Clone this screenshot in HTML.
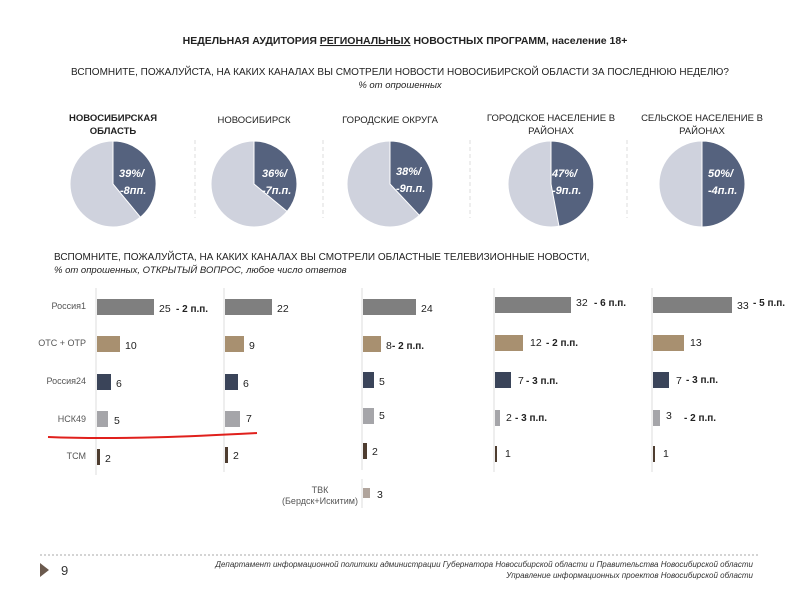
<!DOCTYPE html>
<html><head><meta charset="utf-8"><style>
body{margin:0;background:#fff;width:800px;height:599px;overflow:hidden}
svg{display:block}
text{font-family:"Liberation Sans",sans-serif;fill:#222}
</style></head><body>
<svg width="800" height="599" viewBox="0 0 800 599">
<text x="405" y="44" text-anchor="middle" font-size="10.5" font-weight="bold">НЕДЕЛЬНАЯ АУДИТОРИЯ <tspan text-decoration="underline">РЕГИОНАЛЬНЫХ</tspan> НОВОСТНЫХ ПРОГРАММ, население 18+</text>
<text x="400" y="75" text-anchor="middle" font-size="10">ВСПОМНИТЕ, ПОЖАЛУЙСТА, НА КАКИХ КАНАЛАХ ВЫ СМОТРЕЛИ НОВОСТИ НОВОСИБИРСКОЙ ОБЛАСТИ ЗА ПОСЛЕДНЮЮ НЕДЕЛЮ?</text>
<text x="400" y="88" text-anchor="middle" font-size="9.5" font-style="italic">% от опрошенных</text>

<g font-size="9.5" text-anchor="middle">
<text x="113" y="121" font-weight="bold">НОВОСИБИРСКАЯ</text><text x="113" y="134" font-weight="bold">ОБЛАСТЬ</text>
<text x="254" y="123">НОВОСИБИРСК</text>
<text x="390" y="123">ГОРОДСКИЕ ОКРУГА</text>
<text x="551" y="121">ГОРОДСКОЕ НАСЕЛЕНИЕ В</text><text x="551" y="134">РАЙОНАХ</text>
<text x="702" y="121">СЕЛЬСКОЕ НАСЕЛЕНИЕ В</text><text x="702" y="134">РАЙОНАХ</text>
</g>
<g stroke="#ddd" stroke-dasharray="4,3">
<line x1="195" y1="140" x2="195" y2="218"/><line x1="323" y1="140" x2="323" y2="218"/>
<line x1="470" y1="140" x2="470" y2="218"/><line x1="627" y1="140" x2="627" y2="218"/>
</g>
<g stroke="#fff" stroke-width="1">
<circle cx="113" cy="184" r="43" fill="#cfd2dd"/><path d="M113,184 L113,141 A43,43 0 0 1 140.4,217.2 Z" fill="#55627e"/>
<circle cx="254" cy="184" r="43" fill="#cfd2dd"/><path d="M254,184 L254,141 A43,43 0 0 1 287.1,211.4 Z" fill="#55627e"/>
<circle cx="390" cy="184" r="43" fill="#cfd2dd"/><path d="M390,184 L390,141 A43,43 0 0 1 419.4,215.3 Z" fill="#55627e"/>
<circle cx="551" cy="184" r="43" fill="#cfd2dd"/><path d="M551,184 L551,141 A43,43 0 0 1 559,226.2 Z" fill="#55627e"/>
<circle cx="702" cy="184" r="43" fill="#cfd2dd"/><path d="M702,184 L702,141 A43,43 0 0 1 702,227 Z" fill="#55627e"/>
</g>
<g font-size="11" font-weight="bold" font-style="italic">
<text x="119" y="177" style="fill:#fff">39%/</text><text x="120" y="194" style="fill:#fff">-8пп.</text>
<text x="262" y="177" style="fill:#fff">36%/</text><text x="262" y="194" style="fill:#fff">-7п.п.</text>
<text x="396" y="175" style="fill:#fff">38%/</text><text x="396" y="192" style="fill:#fff">-9п.п.</text>
<text x="552" y="177" style="fill:#fff">47%/</text><text x="552" y="194" style="fill:#fff">-9п.п.</text>
<text x="708" y="177" style="fill:#fff">50%/</text><text x="708" y="194" style="fill:#fff">-4п.п.</text>
</g>

<text x="54" y="260" font-size="10">ВСПОМНИТЕ, ПОЖАЛУЙСТА, НА КАКИХ КАНАЛАХ ВЫ СМОТРЕЛИ ОБЛАСТНЫЕ ТЕЛЕВИЗИОННЫЕ НОВОСТИ,</text>
<text x="54" y="273" font-size="9.5" font-style="italic">% от опрошенных, ОТКРЫТЫЙ ВОПРОС, любое число ответов</text>

<g stroke="#ddd" stroke-width="1">
<line x1="96" y1="288" x2="96" y2="475"/><line x1="224" y1="288" x2="224" y2="472"/>
<line x1="362" y1="288" x2="362" y2="470"/><line x1="494" y1="288" x2="494" y2="472"/>
<line x1="652" y1="288" x2="652" y2="472"/><line x1="362" y1="479" x2="362" y2="508"/>
</g>
<g font-size="9" text-anchor="end">
<text x="86" y="309" style="fill:#555">Россия1</text><text x="86" y="346" style="fill:#555">ОТС + ОТР</text>
<text x="86" y="384" style="fill:#555">Россия24</text><text x="86" y="422" style="fill:#555">НСК49</text>
<text x="86" y="459" style="fill:#555">ТСМ</text>
</g>
<g font-size="9" text-anchor="middle"><text x="320" y="493" style="fill:#555">ТВК</text><text x="320" y="504" style="fill:#555">(Бердск+Искитим)</text></g>

<g>
<rect x="97" y="299" width="57" height="16" fill="#7f7f7f"/><rect x="97" y="336" width="23" height="16" fill="#a89070"/>
<rect x="97" y="374" width="14" height="16" fill="#3a4459"/><rect x="97" y="411" width="11" height="16" fill="#a5a5a9"/>
<rect x="97" y="449" width="3" height="16" fill="#4e3d30"/>
<rect x="225" y="299" width="47" height="16" fill="#7f7f7f"/><rect x="225" y="336" width="19" height="16" fill="#a89070"/>
<rect x="225" y="374" width="13" height="16" fill="#3a4459"/><rect x="225" y="411" width="15" height="16" fill="#a5a5a9"/>
<rect x="225" y="447" width="3" height="16" fill="#4e3d30"/>
<rect x="363" y="299" width="53" height="16" fill="#7f7f7f"/><rect x="363" y="336" width="18" height="16" fill="#a89070"/>
<rect x="363" y="372" width="11" height="16" fill="#3a4459"/><rect x="363" y="408" width="11" height="16" fill="#a5a5a9"/>
<rect x="363" y="443" width="4" height="16" fill="#4e3d30"/><rect x="363" y="488" width="7" height="10" fill="#b0a49c"/>
<rect x="495" y="297" width="76" height="16" fill="#7f7f7f"/><rect x="495" y="335" width="28" height="16" fill="#a89070"/>
<rect x="495" y="372" width="16" height="16" fill="#3a4459"/><rect x="495" y="410" width="5" height="16" fill="#a5a5a9"/>
<rect x="495" y="446" width="2" height="16" fill="#4e3d30"/>
<rect x="653" y="297" width="79" height="16" fill="#7f7f7f"/><rect x="653" y="335" width="31" height="16" fill="#a89070"/>
<rect x="653" y="372" width="16" height="16" fill="#3a4459"/><rect x="653" y="410" width="7" height="16" fill="#a5a5a9"/>
<rect x="653" y="446" width="2" height="16" fill="#4e3d30"/>
</g>
<g font-size="10.5">
<text x="159" y="312">25</text><text x="125" y="349">10</text><text x="116" y="387">6</text><text x="114" y="424">5</text><text x="105" y="462">2</text>
<text x="277" y="312">22</text><text x="249" y="349">9</text><text x="243" y="387">6</text><text x="246" y="422">7</text><text x="233" y="459">2</text>
<text x="421" y="312">24</text><text x="386" y="349">8</text><text x="379" y="385">5</text><text x="379" y="419">5</text><text x="372" y="455">2</text><text x="377" y="498">3</text>
<text x="576" y="306">32</text><text x="530" y="346">12</text><text x="518" y="384">7</text><text x="506" y="421">2</text><text x="505" y="457">1</text>
<text x="737" y="309">33</text><text x="690" y="346">13</text><text x="676" y="384">7</text><text x="666" y="419">3</text><text x="663" y="457">1</text>
</g>
<g font-size="10" font-weight="bold">
<text x="176" y="312">- 2 п.п.</text><text x="392" y="349">- 2 п.п.</text>
<text x="594" y="306">- 6 п.п.</text><text x="546" y="346">- 2 п.п.</text><text x="526" y="384">- 3 п.п.</text><text x="515" y="421">- 3 п.п.</text>
<text x="753" y="306">- 5 п.п.</text><text x="686" y="383">- 3 п.п.</text><text x="684" y="421">- 2 п.п.</text>
</g>
<path d="M48,437 C120,440 200,436 257,433" stroke="#e0201c" stroke-width="2" fill="none"/>

<line x1="40" y1="555" x2="760" y2="555" stroke="#aaa" stroke-dasharray="2,2"/>
<polygon points="40,563 49,570 40,577" fill="#6b5a4e"/>
<text x="61" y="575" font-size="13" style="fill:#333">9</text>
<g font-size="8" font-style="italic" text-anchor="end">
<text x="753" y="567" style="fill:#333">Департамент информационной политики  администрации  Губернатора Новосибирской области и Правительства Новосибирской области</text>
<text x="753" y="578" style="fill:#333">Управление информационных проектов Новосибирской области</text>
</g>
</svg>
</body></html>
